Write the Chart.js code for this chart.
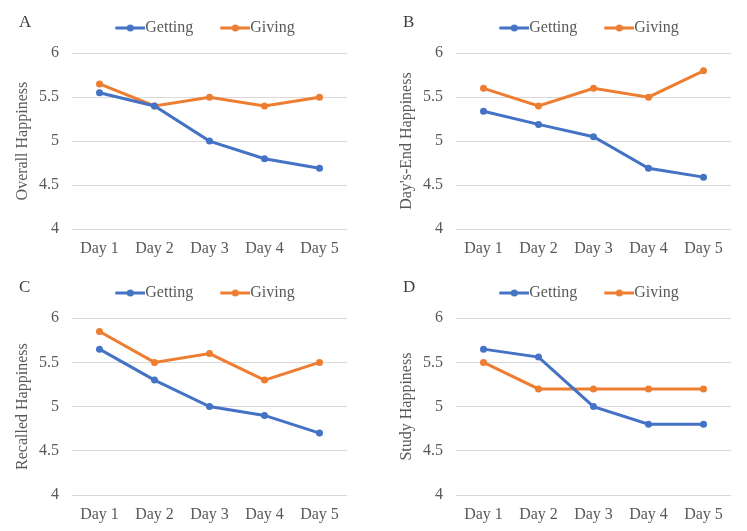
<!DOCTYPE html>
<html>
<head>
<meta charset="utf-8">
<script src="https://cdn.jsdelivr.net/npm/chart.js@4.4.1/dist/chart.umd.min.js"></script>
<style>
  body { margin: 0; background: #fff; }
  #wrap { position: relative; width: 747px; height: 531px; }
  .panel { position: absolute; }
</style>
</head>
<body>
<div id="wrap">
  <div class="panel" style="left:0;top:0;width:374px;height:265px"><canvas id="chartA"></canvas></div>
  <div class="panel" style="left:374px;top:0;width:373px;height:265px"><canvas id="chartB"></canvas></div>
  <div class="panel" style="left:0;top:265px;width:374px;height:266px"><canvas id="chartC"></canvas></div>
  <div class="panel" style="left:374px;top:265px;width:373px;height:266px"><canvas id="chartD"></canvas></div>
</div>
<script>
const days = ["Day 1", "Day 2", "Day 3", "Day 4", "Day 5"];
const seriesNames = ["Getting", "Giving"];

// panel A - overall happiness
const overallGetting = [5.55, 5.4, 5.0, 4.8, 4.69];
const overallGiving = [5.65, 5.4, 5.5, 5.4, 5.5];
// panel B - day's-end happiness
const dayEndGetting = [5.34, 5.19, 5.05, 4.69, 4.59];
const dayEndGiving = [5.6, 5.4, 5.6, 5.5, 5.8];
// panel C - recalled happiness
const recalledGetting = [5.65, 5.3, 5.0, 4.9, 4.7];
const recalledGiving = [5.85, 5.5, 5.6, 5.3, 5.5];
// panel D - study happiness
const studyGetting = [5.65, 5.56, 5.0, 4.8, 4.8];
const studyGiving = [5.5, 5.2, 5.2, 5.2, 5.2];

const yMin = 4, yMax = 6, yStep = 0.5;

const BLUE = "#4472C4";
const ORANGE = "#ED7D31";
const GREY = "#595959";
const SERIF = "'Liberation Serif', 'Times New Roman', serif";

// legend icon: line with a dot, like the excel legend
function makeIcon(color) {
  const c = document.createElement("canvas");
  c.width = 55;
  c.height = 10;
  const ctx = c.getContext("2d");
  ctx.strokeStyle = color;
  ctx.lineWidth = 3;
  ctx.beginPath();
  ctx.moveTo(25, 5);
  ctx.lineTo(55, 5);
  ctx.stroke();
  ctx.fillStyle = color;
  ctx.beginPath();
  ctx.arc(40, 5, 3.5, 0, Math.PI * 2);
  ctx.fill();
  return c;
}
const icons = [makeIcon(BLUE), makeIcon(ORANGE)];

const panelLetter = {
  id: "panelLetter",
  beforeDraw(chart, args, opts) {
    chart.legend.left += opts.legendShift;
    chart.legend.right += opts.legendShift;
  },
  afterDraw(chart, args, opts) {
    const ctx = chart.ctx;
    ctx.save();
    ctx.font = "17px " + SERIF;
    ctx.fillStyle = "#404040";
    ctx.textBaseline = "middle";
    ctx.fillText(opts.text, opts.x, 23);
    ctx.restore();
  }
};

function makeChart(id, letter, yTitle, getting, giving, padLeft, padRight) {
  new Chart(document.getElementById(id), {
    type: "line",
    data: {
      labels: days,
      datasets: [
        { label: seriesNames[0], data: getting, borderColor: BLUE, backgroundColor: BLUE },
        { label: seriesNames[1], data: giving, borderColor: ORANGE, backgroundColor: ORANGE }
      ]
    },
    options: {
      responsive: true,
      maintainAspectRatio: false,
      animation: false,
      devicePixelRatio: 1,
      layout: { padding: { left: padLeft, right: padRight, top: 10, bottom: 0 } },
      elements: {
        line: { borderWidth: 3, tension: 0 },
        point: { radius: 3.5, borderWidth: 0, hoverRadius: 4 }
      },
      plugins: {
        legend: {
          position: "top",
          fullSize: false,
          weight: 2500,
          labels: {
            usePointStyle: true,
            pointStyleWidth: 39,
            padding: 10,
            color: GREY,
            font: { family: SERIF, size: 16 },
            generateLabels(chart) {
              const items = Chart.defaults.plugins.legend.labels.generateLabels(chart);
              items.forEach((it, i) => { it.pointStyle = icons[i]; });
              return items;
            }
          }
        },
        // empty subtitle only used as a spacer between legend and plot
        subtitle: { display: true, text: "", font: { size: 1 }, padding: { top: 0, bottom: 6 } },
        tooltip: { enabled: false },
        panelLetter: { text: letter, x: 19 + padLeft, legendShift: -13 }
      },
      scales: {
        x: {
          offset: true,
          grid: { display: false },
          border: { display: false },
          ticks: { color: GREY, font: { family: SERIF, size: 16 }, padding: 2 },
          afterFit(scale) { scale.height = 36; }
        },
        y: {
          min: yMin,
          max: yMax,
          grid: { color: "#D9D9D9", lineWidth: 1, drawTicks: false },
          border: { display: false },
          ticks: {
            stepSize: yStep,
            color: GREY,
            font: { family: SERIF, size: 16 },
            padding: 13,
            callback: (v) => String(v)
          },
          title: { display: true, text: yTitle, color: GREY, font: { family: SERIF, size: 16 }, padding: { top: 13, bottom: 2 } },
          afterFit(scale) { scale.width = 72; }
        }
      }
    },
    plugins: [panelLetter]
  });
}

makeChart("chartA", "A", "Overall Happiness", overallGetting, overallGiving, 0, 27);
makeChart("chartB", "B", "Day's-End Happiness", dayEndGetting, dayEndGiving, 10, 16);
makeChart("chartC", "C", "Recalled Happiness", recalledGetting, recalledGiving, 0, 27);
makeChart("chartD", "D", "Study Happiness", studyGetting, studyGiving, 10, 16);
</script>
</body>
</html>
